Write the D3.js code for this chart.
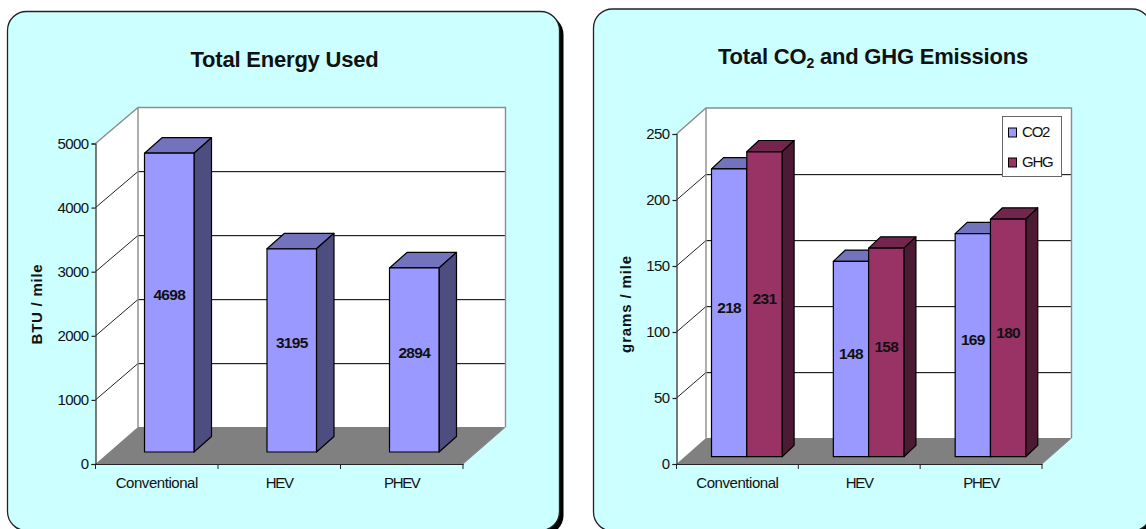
<!DOCTYPE html>
<html><head><meta charset="utf-8">
<script src="https://cdn.jsdelivr.net/npm/d3@7/dist/d3.min.js"></script>
<style>
html,body{margin:0;padding:0;background:#fff;overflow:hidden}
svg{display:block}
text{font-family:"Liberation Sans",Arial,sans-serif;fill:#111}
.tick text{font-size:15px;letter-spacing:-.6px}
</style></head><body>
<svg id="c" width="1146" height="529"></svg>
<script>
const categories = ["Conventional", "HEV", "PHEV"];
const energySeriesName = "Energy";
const energyValues = [4698, 3195, 2894];
const energyTicks = [0, 1000, 2000, 3000, 4000, 5000];
const co2Values = [218, 148, 169];
const ghgValues = [231, 158, 180];
const emissionTicks = [0, 50, 100, 150, 200, 250];

const colors = {
  a: {front: "#9999ff", top: "#7373bd", side: "#4d4d80"},
  b: {front: "#993366", top: "#73264d", side: "#4d1a33"}
};
const svg = d3.select("#c");

function panel(p) {
  svg.append("rect").attr("x", p.x + 4).attr("y", p.y + 4).attr("width", p.w).attr("height", p.h)
    .attr("rx", 19).attr("fill", "#000");
  svg.append("rect").attr("x", p.x).attr("y", p.y).attr("width", p.w).attr("height", p.h)
    .attr("rx", 19).attr("fill", "#ccffff").attr("stroke", "#222").attr("stroke-width", 1.3);
}

function chart(o) {
  const g = svg.append("g");
  const dx = o.backX - o.x0;
  const maxV = d3.max(o.ticks);
  const yFront = d3.scaleLinear().domain([0, maxV]).range([o.y0, o.yTop]);
  const yBack = d3.scaleLinear().domain([0, maxV]).range([o.backY0, o.backYTop]);
  const yBar = d3.scaleLinear().domain([0, maxV]).range([o.barBase, o.barBase - o.barSpan]);
  const x = d3.scaleBand().domain(categories).range([o.x0, o.x1]);
  const inner = d3.scaleBand().domain(d3.range(o.series.length)).range([0, o.barW * o.series.length]);

  // side wall and back wall
  g.append("polygon").attr("fill", "#fff").attr("points", [
    [o.x0, o.y0], [o.x0, o.yTop], [o.backX, o.backYTop], [o.backX, o.backY0]].join(" "));
  g.append("rect").attr("x", o.backX).attr("y", o.backYTop)
    .attr("width", o.x1 + dx - o.backX).attr("height", o.backY0 - o.backYTop).attr("fill", "#fff");

  // gridlines
  o.ticks.filter(t => t > 0 && t < maxV).forEach(t => {
    const gy = Math.round(yBack(t)) + 0.5;
    g.append("line").attr("x1", o.backX).attr("x2", o.x1 + dx).attr("y1", gy + 1).attr("y2", gy + 1)
      .attr("stroke", "#d8d8d8").attr("stroke-width", 1);
    g.append("line").attr("x1", o.backX).attr("x2", o.x1 + dx).attr("y1", gy).attr("y2", gy)
      .attr("stroke", "#222").attr("stroke-width", 1);
    g.append("line").attr("x1", o.x0).attr("x2", o.backX).attr("y1", yFront(t)).attr("y2", gy)
      .attr("stroke", "#222").attr("stroke-width", 1);
  });
  // wall edges
  g.append("path").attr("fill", "none").attr("stroke", "#8c8c8c").attr("stroke-width", 1.4)
    .attr("d", d3.line()([[o.x0, o.yTop], [o.backX, o.backYTop], [o.x1 + dx, o.backYTop], [o.x1 + dx, o.backY0]]));
  g.append("line").attr("x1", o.backX).attr("x2", o.backX).attr("y1", o.backYTop).attr("y2", o.backY0)
    .attr("stroke", "#8c8c8c").attr("stroke-width", 1.4);

  // floor
  g.append("polygon").attr("fill", "#808080").attr("points", [
    [o.x0, o.y0], [o.x1, o.y0], [o.x1 + dx, o.backY0], [o.backX, o.backY0]].join(" "));
  g.append("line").attr("x1", o.x1).attr("x2", o.x1 + dx).attr("y1", o.y0).attr("y2", o.backY0)
    .attr("stroke", "#8c8c8c").attr("stroke-width", 1);

  // bars
  const barStroke = {stroke: "#000", "stroke-width": 1.2, "stroke-linejoin": "round"};
  const applyStroke = s => Object.entries(barStroke).forEach(([k, v]) => s.attr(k, v));
  const labels = [];
  categories.forEach((c, ci) => {
    o.series.forEach((s, si) => {
      const v = s.values[ci];
      const L = x(c) + o.barOffset + inner(si), R = L + inner.bandwidth();
      const T = yBar(v), B = o.barBase;
      applyStroke(g.append("polygon").attr("fill", s.colors.top).attr("points",
        [[L, T], [R, T], [R + o.barDx, T - o.barDy], [L + o.barDx, T - o.barDy]].join(" ")));
      applyStroke(g.append("polygon").attr("fill", s.colors.side).attr("points",
        [[R, T], [R + o.barDx, T - o.barDy], [R + o.barDx, B - o.barDy], [R, B]].join(" ")));
      applyStroke(g.append("rect").attr("x", L).attr("y", T).attr("width", R - L).attr("height", B - T)
        .attr("fill", s.colors.front));
      labels.push({v, x: (L + R) / 2, y: (T - o.barDy + B) / 2});
    });
  });
  g.selectAll("text.val").data(labels).join("text").attr("class", "val")
    .attr("x", d => d.x).attr("y", d => d.y).attr("dy", "0.36em").attr("text-anchor", "middle")
    .attr("font-size", 15.5).attr("font-weight", "bold").attr("letter-spacing", "-.7px").text(d => d.v);

  // y axis
  const ay = g.append("g").attr("transform", `translate(${o.x0},0)`)
    .call(d3.axisLeft(yFront).tickValues(o.ticks).tickSize(4).tickPadding(3).tickFormat(d3.format("d")));
  ay.selectAll("path,line").attr("stroke", "#222").attr("stroke-width", 1.2);
  ay.selectAll("text").attr("fill", "#111");
  ay.attr("font-family", null).attr("font-size", null);

  // x axis
  const ax = g.append("g").attr("transform", `translate(0,${o.y0})`)
    .call(d3.axisBottom(x).tickSize(0).tickPadding(13));
  ax.selectAll("path").attr("stroke", "#222").attr("stroke-width", 1.2);
  ax.selectAll("text").attr("fill", "#111")
    .style("letter-spacing", d => d === d.toUpperCase() ? "-1.3px" : "-.45px");
  ax.attr("font-family", null).attr("font-size", null);
  categories.concat([null]).forEach(c => {
    const px = c === null ? o.x1 : x(c);
    ax.append("line").attr("x1", px).attr("x2", px).attr("y1", 0).attr("y2", 5)
      .attr("stroke", "#222").attr("stroke-width", 1);
  });

  // y title
  svg.append("text").attr("transform", `translate(${o.yTitleX},${o.yTitleY}) rotate(-90)`)
    .attr("text-anchor", "middle").attr("font-size", 15).attr("font-weight", "bold")
    .attr("letter-spacing", o.yTitleSpacing).text(o.yTitle);
}

panel({x: 7.5, y: 11.5, w: 552, h: 519});
panel({x: 593.5, y: 9, w: 557.5, h: 522});

chart({
  series: [{name: energySeriesName, values: energyValues, colors: colors.a}],
  ticks: energyTicks, yTitle: "BTU / mile", yTitleX: 42, yTitleY: 304, yTitleSpacing: ".75px",
  x0: 95.5, x1: 463, y0: 464, yTop: 143.5, backX: 138, backY0: 427, backYTop: 107.5,
  barBase: 452, barSpan: 318, barW: 49.5, barOffset: 49, barDx: 17.5, barDy: 15.5
});
chart({
  series: [{name: "CO2", values: co2Values, colors: colors.a}, {name: "GHG", values: ghgValues, colors: colors.b}],
  ticks: emissionTicks, yTitle: "grams / mile", yTitleX: 631, yTitleY: 304, yTitleSpacing: ".85px",
  x0: 676.5, x1: 1042, y0: 464, yTop: 134, backX: 706, backY0: 438, backYTop: 108,
  barBase: 456.7, barSpan: 330, barW: 35.3, barOffset: 35, barDx: 12, barDy: 11.3
});

// titles
svg.append("text").attr("x", 284.5).attr("y", 67).attr("text-anchor", "middle")
  .attr("font-size", 22).attr("font-weight", "bold").attr("letter-spacing", "-.2px").text("Total Energy Used");
const t2 = svg.append("text").attr("x", 873).attr("y", 64).attr("text-anchor", "middle")
  .attr("font-size", 22).attr("font-weight", "bold").attr("letter-spacing", "-.2px");
t2.append("tspan").text("Total CO");
t2.append("tspan").attr("font-size", 14).attr("dy", 4).text("2");
t2.append("tspan").attr("dy", -4).text(" and GHG Emissions");

// legend
const legendNames = ["CO2", "GHG"];
const legendColors = [colors.a.front, colors.b.front];
const lg = svg.append("g");
lg.append("rect").attr("x", 1002.5).attr("y", 116.5).attr("width", 59).attr("height", 60)
  .attr("fill", "#fff").attr("stroke", "#666").attr("stroke-width", 1);
legendNames.forEach((n, i) => {
  lg.append("rect").attr("x", 1008.5).attr("y", 128 + i * 30).attr("width", 8).attr("height", 9)
    .attr("fill", legendColors[i]).attr("stroke", "#000").attr("stroke-width", 1);
  lg.append("text").attr("x", 1022).attr("y", 132 + i * 30).attr("dy", "0.36em")
    .attr("font-size", 15).attr("letter-spacing", "-1.2px").text(n);
});
</script>
</body></html>
